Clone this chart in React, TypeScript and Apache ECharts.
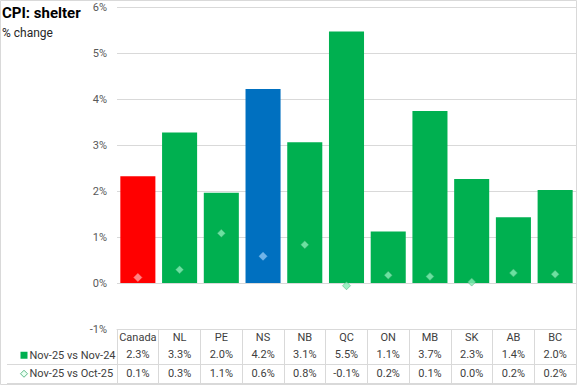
import React, { useEffect, useRef } from "react";
import * as echarts from "echarts";

const categories = ["Canada", "NL", "PE", "NS", "NB", "QC", "ON", "MB", "SK", "AB", "BC"];
const yearOverYear = [2.32, 3.27, 1.96, 4.22, 3.06, 5.47, 1.12, 3.74, 2.26, 1.43, 2.02];
const monthOverMonth = [0.12, 0.29, 1.08, 0.58, 0.83, -0.06, 0.17, 0.14, 0.02, 0.22, 0.19];
const seriesNames = ["Nov-25 vs Nov-24", "Nov-25 vs Oct-25"];
const yTicks = { min: -1, max: 6, interval: 1 };

const GREEN = "#00B050";
const RED = "#FF0000";
const BLUE = "#0070C0";
const MINT = "#86EDB4";
const FONT = "Roboto";
const TEXT = "#404040";
const LINE = "#D9D9D9";

export default function App() {
  const ref = useRef<HTMLDivElement>(null);
  useEffect(() => {
    if (!ref.current) return;
    const chart = echarts.init(ref.current, null, { renderer: "svg" });
    const barColor = (c: string) => (c === "Canada" ? RED : c === "NS" ? BLUE : GREEN);
    const dotColor = (c: string) => (c === "Canada" ? "#FFA3A3" : c === "NS" ? "#8CC6F2" : MINT);
    const fmt = (v: number) => v.toFixed(1) + "%";
    chart.setOption({
      animation: false,
      backgroundColor: "#fff",
      textStyle: { fontFamily: FONT },
      title: {
        text: "CPI: shelter",
        subtext: "% change",
        left: 2,
        top: 5,
        padding: 0,
        itemGap: 7,
        textStyle: { fontFamily: FONT, fontSize: 15, fontWeight: "bold", color: "#000" },
        subtextStyle: { fontFamily: FONT, fontSize: 12, color: "#262626" },
      },
      legend: {
        orient: "vertical",
        left: 20,
        top: 346,
        padding: 0,
        itemGap: 0,
        itemWidth: 7,
        itemHeight: 7,
        textStyle: { fontFamily: FONT, fontSize: 11, color: TEXT, lineHeight: 18.5, padding: [0, 0, 0, -3] },
        data: [
          { name: seriesNames[0], icon: "rect", itemStyle: { color: GREEN } },
          { name: seriesNames[1], icon: "diamond", itemStyle: { color: "#E6FFEF", borderColor: "#3AA76D", borderWidth: 1 } },
        ],
      },
      grid: { left: 117, right: 1, top: 7, bottom: 56, containLabel: false },
      xAxis: {
        type: "category",
        data: categories,
        axisLine: { show: true, onZero: false, lineStyle: { color: LINE } },
        axisTick: { show: true, length: 54, interval: 0, lineStyle: { color: LINE } },
        axisLabel: {
          interval: 0,
          margin: 0,
          formatter: (c: string, i: number) =>
            `{a|${c}}\n{b|${fmt(yearOverYear[i])}}\n{b|${fmt(monthOverMonth[i])}}`,
          rich: {
            a: { fontFamily: FONT, fontSize: 11, color: TEXT, lineHeight: 16 },
            b: { fontFamily: FONT, fontSize: 11, color: TEXT, lineHeight: 19 },
          },
        },
      },
      yAxis: {
        type: "value",
        min: yTicks.min,
        max: yTicks.max,
        interval: yTicks.interval,
        axisLine: { show: false },
        axisTick: { show: false },
        axisLabel: { formatter: "{value}%", fontFamily: FONT, fontSize: 11, color: "#595959", margin: 10 },
        splitLine: { lineStyle: { color: LINE } },
      },
      series: [
        {
          name: seriesNames[0],
          type: "bar",
          barCategoryGap: "16%",
          itemStyle: { color: GREEN },
          data: yearOverYear.map((v, i) => ({ value: v, itemStyle: { color: barColor(categories[i]) } })),
        },
        {
          name: seriesNames[1],
          type: "scatter",
          symbol: "diamond",
          symbolSize: 8,
          itemStyle: { color: MINT, borderColor: "#3AA76D", borderWidth: 0.6 },
          data: monthOverMonth.map((v, i) => ({
            value: v,
            itemStyle: { color: dotColor(categories[i]), borderColor: categories[i] === "Canada" || categories[i] === "NS" ? dotColor(categories[i]) : "#3AA76D" },
          })),
          z: 5,
        },
      ],
      graphic: [
        { type: "line", shape: { x1: 7, y1: 364.5, x2: 576, y2: 364.5 }, style: { stroke: LINE, lineWidth: 1 } },
        { type: "line", shape: { x1: 7, y1: 383.5, x2: 576, y2: 383.5 }, style: { stroke: LINE, lineWidth: 1 } },
        { type: "rect", shape: { x: 0.5, y: 0.5, width: 576, height: 384 }, style: { fill: "none", stroke: LINE, lineWidth: 1 }, silent: true },
      ],
    });
    return () => chart.dispose();
  }, []);
  return (
    <div
      ref={ref}
      style={{ position: "fixed", left: 0, top: 0, width: 577, height: 385, background: "#fff" }}
    />
  );
}
